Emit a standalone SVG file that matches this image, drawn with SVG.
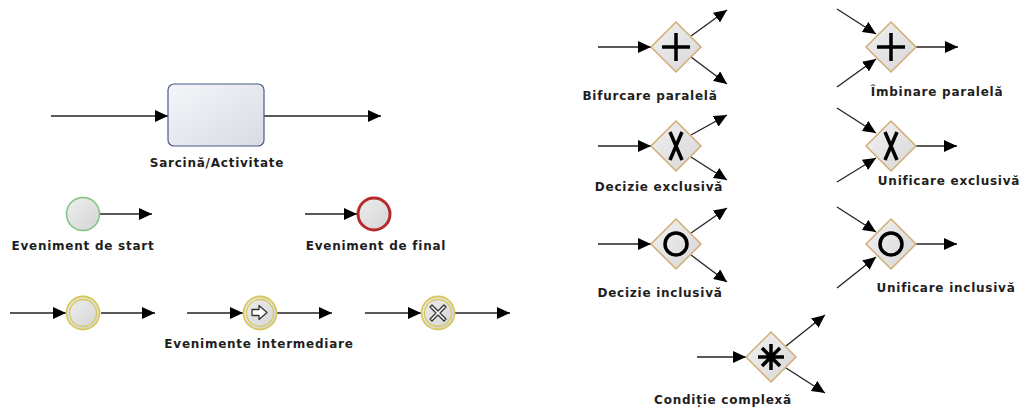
<svg xmlns="http://www.w3.org/2000/svg" width="1023" height="407" viewBox="0 0 1023 407">
  <style>
    .lbl { font-family: "DejaVu Sans", Verdana, sans-serif; font-weight: bold; font-size: 12px; letter-spacing: 0.75px; fill: #1e1e1e; text-anchor: middle; }
    .flow { stroke: #222; stroke-width: 1.3; fill: none; marker-end: url(#arr); }
    .gw { fill: url(#gwFill); stroke: #d2ad74; stroke-width: 1.5; }
    .sym { stroke: #000; stroke-width: 3.5; fill: none; }
    .ico { stroke: #333; stroke-width: 1.3; fill: #fff; stroke-linejoin: round; }
  </style>
  <defs>
    <marker id="arr" viewBox="0 0 13 12" refX="13" refY="6" markerWidth="13" markerHeight="12" markerUnits="userSpaceOnUse" orient="auto">
      <path d="M0,0 L13,6 L0,12 z" fill="#000"/>
    </marker>
    <linearGradient id="taskFill" x1="0" y1="0" x2="1" y2="1">
      <stop offset="0" stop-color="#f4f6fa"/>
      <stop offset="1" stop-color="#d8dbe2"/>
    </linearGradient>
    <linearGradient id="evFill" x1="0" y1="0" x2="1" y2="1">
      <stop offset="0" stop-color="#eeeeee"/>
      <stop offset="1" stop-color="#d4d4d4"/>
    </linearGradient>
    <linearGradient id="gwFill" x1="0" y1="0" x2="1" y2="1">
      <stop offset="0" stop-color="#f2f2f2"/>
      <stop offset="1" stop-color="#d6d6d6"/>
    </linearGradient>
  </defs>

  <rect width="1023" height="407" fill="#fff"/>

  <!-- sequence flows -->
  <g id="connectors">
    <line class="flow" x1="51" y1="116" x2="168" y2="116"/>
    <line class="flow" x1="264" y1="116" x2="381" y2="116"/>
    <line class="flow" x1="100" y1="214" x2="152" y2="214"/>
    <line class="flow" x1="305" y1="214" x2="357" y2="214"/>
    <line class="flow" x1="10" y1="313" x2="66" y2="313"/>
    <line class="flow" x1="101" y1="313" x2="155" y2="313"/>
    <line class="flow" x1="187" y1="313" x2="243" y2="313"/>
    <line class="flow" x1="277" y1="313" x2="332" y2="313"/>
    <line class="flow" x1="365" y1="313" x2="421" y2="313"/>
    <line class="flow" x1="455" y1="313" x2="510" y2="313"/>
    <!-- parallel split -->
    <line class="flow" x1="598" y1="47" x2="651" y2="47"/>
    <line class="flow" x1="691" y1="36" x2="727" y2="10"/>
    <line class="flow" x1="691" y1="57" x2="727" y2="84"/>
    <!-- parallel join -->
    <line class="flow" x1="837" y1="9" x2="876" y2="34"/>
    <line class="flow" x1="837" y1="87" x2="876" y2="59"/>
    <line class="flow" x1="916" y1="47" x2="958" y2="47"/>
    <!-- exclusive decision -->
    <line class="flow" x1="598" y1="146" x2="651" y2="146"/>
    <line class="flow" x1="691" y1="135" x2="727" y2="115"/>
    <line class="flow" x1="691" y1="157" x2="727" y2="180"/>
    <!-- exclusive merge -->
    <line class="flow" x1="837" y1="108" x2="876" y2="133"/>
    <line class="flow" x1="837" y1="182" x2="876" y2="158"/>
    <line class="flow" x1="916" y1="146" x2="957" y2="146"/>
    <!-- inclusive decision -->
    <line class="flow" x1="598" y1="244" x2="651" y2="244"/>
    <line class="flow" x1="691" y1="233" x2="727" y2="208"/>
    <line class="flow" x1="691" y1="255" x2="727" y2="282"/>
    <!-- inclusive merge -->
    <line class="flow" x1="837" y1="207" x2="876" y2="232"/>
    <line class="flow" x1="837" y1="288" x2="876" y2="257"/>
    <line class="flow" x1="916" y1="244" x2="957" y2="244"/>
    <!-- complex gateway -->
    <line class="flow" x1="697" y1="357" x2="746" y2="357"/>
    <line class="flow" x1="786" y1="346" x2="825" y2="315"/>
    <line class="flow" x1="786" y1="368" x2="825" y2="393"/>
  </g>

  <g id="task">
    <rect x="168" y="84" width="96" height="62" rx="6" fill="url(#taskFill)" stroke="#4a5a8a" stroke-width="1.2"/>
    <text class="lbl" x="217" y="167">Sarcină/Activitate</text>
  </g>

  <g id="start-event">
    <circle cx="83" cy="214" r="16.5" fill="url(#evFill)" stroke="#7cc47c" stroke-width="1.5"/>
    <text class="lbl" x="83" y="250">Eveniment de start</text>
  </g>

  <g id="end-event">
    <circle cx="374" cy="214" r="16" fill="url(#evFill)" stroke="#b52b2b" stroke-width="3"/>
    <text class="lbl" x="376" y="250">Eveniment de final</text>
  </g>

  <g id="intermediate-events">
    <g id="ie-plain">
      <circle cx="83" cy="313" r="16.5" fill="url(#evFill)" stroke="#d8c860" stroke-width="1.8"/>
      <circle cx="83" cy="313" r="13.5" fill="none" stroke="#d8c860" stroke-width="1.3"/>
    </g>
    <g id="ie-message">
      <circle cx="260" cy="313" r="16.5" fill="url(#evFill)" stroke="#d8c860" stroke-width="1.8"/>
      <circle cx="260" cy="313" r="13.5" fill="none" stroke="#d8c860" stroke-width="1.3"/>
      <path class="ico" d="M252,309.5 L259,309.5 L259,305.5 L267,312.5 L259,319.5 L259,315.5 L252,315.5 z"/>
    </g>
    <g id="ie-cancel">
      <circle cx="438" cy="313" r="16.5" fill="url(#evFill)" stroke="#d8c860" stroke-width="1.8"/>
      <circle cx="438" cy="313" r="13.5" fill="none" stroke="#d8c860" stroke-width="1.3"/>
      <path class="ico" d="M432,305 L438,311 L444,305 L446,307 L440,313 L446,319 L444,321 L438,315 L432,321 L430,319 L436,313 L430,307 z"/>
    </g>
    <text class="lbl" x="259" y="348">Evenimente intermediare</text>
  </g>

  <g id="parallel-split">
    <path class="gw" d="M676,22 L701,47 L676,72 L651,47 z"/>
    <path class="sym" d="M662,47 H690 M676,33 V61"/>
    <text class="lbl" x="650" y="100">Bifurcare paralelă</text>
  </g>

  <g id="parallel-join">
    <path class="gw" d="M891,22 L916,47 L891,72 L866,47 z"/>
    <path class="sym" d="M877,47 H905 M891,33 V61"/>
    <text class="lbl" x="937" y="96">Îmbinare paralelă</text>
  </g>

  <g id="exclusive-decision">
    <path class="gw" d="M676,121 L701,146 L676,171 L651,146 z"/>
    <path class="sym" stroke-width="3" d="M670,132 Q676,146 682,160 M682,132 Q676,146 670,160"/>
    <text class="lbl" x="659" y="191">Decizie exclusivă</text>
  </g>

  <g id="exclusive-merge">
    <path class="gw" d="M891,121 L916,146 L891,171 L866,146 z"/>
    <path class="sym" stroke-width="3" d="M885,132 Q891,146 897,160 M897,132 Q891,146 885,160"/>
    <text class="lbl" x="949" y="185">Unificare exclusivă</text>
  </g>

  <g id="inclusive-decision">
    <path class="gw" d="M676,219 L701,244 L676,269 L651,244 z"/>
    <circle class="sym" cx="676" cy="244" r="11"/>
    <text class="lbl" x="660" y="297">Decizie inclusivă</text>
  </g>

  <g id="inclusive-merge">
    <path class="gw" d="M891,219 L916,244 L891,269 L866,244 z"/>
    <circle class="sym" cx="891" cy="244" r="11"/>
    <text class="lbl" x="946" y="292">Unificare inclusivă</text>
  </g>

  <g id="complex-gateway">
    <path class="gw" d="M771,332 L796,357 L771,382 L746,357 z"/>
    <path class="sym" stroke-width="3" d="M758,357 H784 M771,344 V370 M762,348 L780,366 M780,348 L762,366"/>
    <text class="lbl" x="723" y="404">Condiție complexă</text>
  </g>
</svg>
